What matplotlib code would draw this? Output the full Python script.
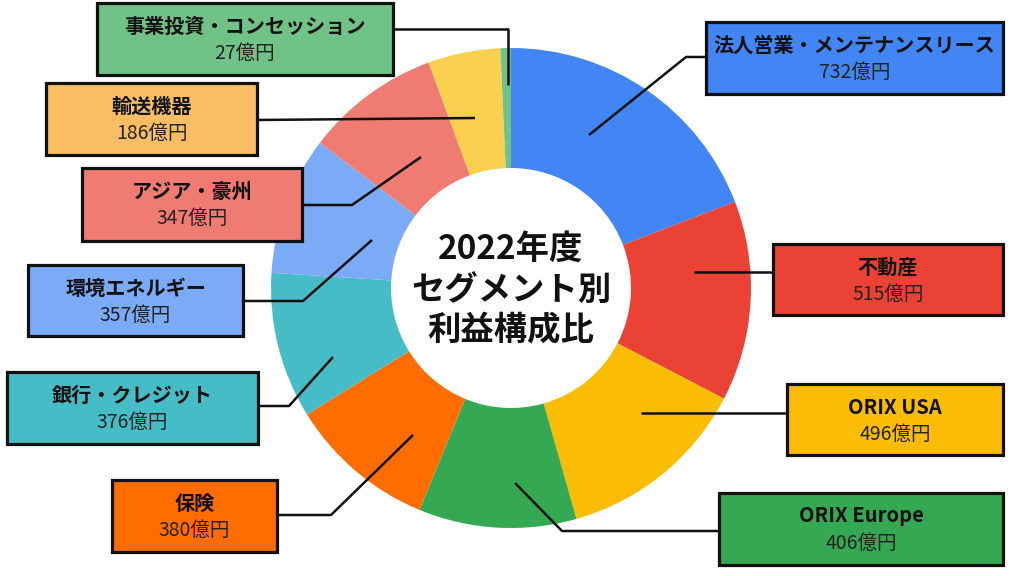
import matplotlib.pyplot as plt
from matplotlib.patches import Rectangle
import numpy as np

plt.rcParams['font.family'] = ['Noto Sans CJK JP', 'DejaVu Sans']

segments = ["法人営業・メンテナンスリース", "不動産", "ORIX USA", "ORIX Europe", "保険",
            "銀行・クレジット", "環境エネルギー", "アジア・豪州", "輸送機器", "事業投資・コンセッション"]
profits = [732, 515, 496, 406, 380, 376, 357, 347, 186, 27]
value_labels = [f"{v}億円" for v in profits]
title_text = "2022年度\nセグメント別\n利益構成比"

wedge_colors = ["#4285F4", "#EA4335", "#FBBC04", "#34A853", "#FF6D01",
                "#46BDC6", "#7BAAF7", "#F07B72", "#FCD04F", "#71C287"]
box_colors = ["#4285F4", "#EA4335", "#FBBC04", "#34A853", "#FF6D01",
              "#46BDC6", "#7BAAF7", "#F07B72", "#F9BE63", "#71C287"]

# layout in pixel units (y from top): box (x0, x1, y0, y1), leader path
boxes = [(706, 1003, 22, 94), (773, 1003, 244, 315), (787, 1003, 384, 455),
         (719, 1003, 493, 565), (112, 277, 480, 552), (7, 258, 372, 444),
         (28, 243, 265, 336), (82, 302, 168, 241), (46, 257, 83, 155),
         (97, 393, 3, 75)]
leaders = [[(589, 135), (686, 57), (706, 57)],
           [(694, 272), (773, 272)],
           [(641, 413), (787, 413)],
           [(515, 483), (562, 531), (719, 531)],
           [(413, 435), (331, 515), (277, 515)],
           [(333, 357), (289, 406), (258, 406)],
           [(372, 240), (303, 301), (243, 301)],
           [(421, 157), (352, 205), (302, 205)],
           [(475, 118), (257, 120)],
           [(508, 85), (508, 29), (393, 29)]]

W, H = 1024, 576
fig = plt.figure(figsize=(10.24, 5.76), dpi=100)
ax = fig.add_axes([0, 0, 1, 1])
cx, cy, R = 511, H - 288, 240
ax.pie(profits, colors=wedge_colors, startangle=90, counterclock=False,
       center=(cx, cy), radius=R, wedgeprops=dict(width=R * 0.5, linewidth=0))
ax.set_xlim(0, W)
ax.set_ylim(0, H)
ax.set_aspect('equal')
ax.axis('off')

ax.text(cx, cy - 2, title_text, ha='center', va='center', fontsize=24,
        fontweight='bold', linespacing=1.3, color='#111111')

for name, val, col, (x0, x1, y0, y1), path in zip(segments, value_labels, box_colors, boxes, leaders):
    xs = [p[0] for p in path]
    ys = [H - p[1] for p in path]
    ax.plot(xs, ys, color='#111111', lw=1.8, solid_capstyle='butt', zorder=3)
    ax.add_patch(Rectangle((x0, H - y1), x1 - x0, y1 - y0, facecolor=col,
                           edgecolor='#111111', lw=2.3, zorder=4))
    xm = (x0 + x1) / 2
    ax.text(xm, H - (y0 + 23), name, ha='center', va='center', fontsize=14.5,
            fontweight='bold', color='#111111', zorder=5)
    ax.text(xm, H - (y0 + 50), val, ha='center', va='center', fontsize=14,
            color='#222222', zorder=5)

fig.savefig("out.png", dpi=100)
